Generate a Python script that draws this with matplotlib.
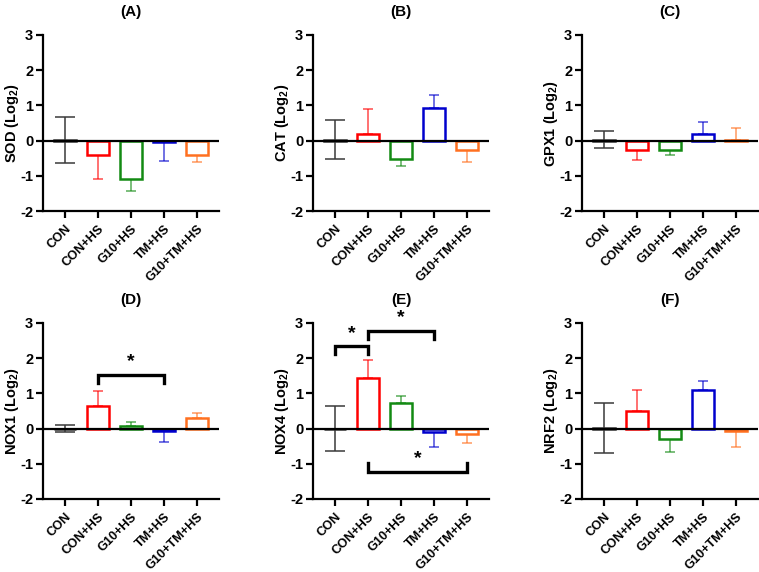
import matplotlib
matplotlib.use("Agg")
import matplotlib.pyplot as plt
import numpy as np

plt.rcParams['font.family'] = ['Liberation Sans', 'DejaVu Sans']
plt.rcParams['font.weight'] = 'bold'
plt.rcParams['mathtext.fontset'] = 'custom'
plt.rcParams['mathtext.rm'] = 'Liberation Sans:bold'
plt.rcParams['mathtext.bf'] = 'Liberation Sans:bold'
plt.rcParams['mathtext.default'] = 'bf'

groups = ["CON", "CON+HS", "G10+HS", "TM+HS", "G10+TM+HS"]
colores = ["#3a3a3a", "#ff0000", "#138a13", "#0000cd", "#ff7020"]

titulos = ["(A)", "(B)", "(C)", "(D)", "(E)", "(F)"]
genes = ["SOD", "CAT", "GPX1", "NOX1", "NOX4", "NRF2"]

sod_mean = [0.02, -0.40, -1.09, -0.04, -0.40]
sod_err = [0.66, 0.69, 0.33, 0.54, 0.21]
cat_mean = [0.03, 0.20, -0.51, 0.94, -0.27]
cat_err = [0.56, 0.70, 0.21, 0.36, 0.35]
gpx1_mean = [0.03, -0.28, -0.28, 0.19, 0.01]
gpx1_err = [0.23, 0.27, 0.13, 0.34, 0.35]
nox1_mean = [0.0, 0.64, 0.07, -0.07, 0.29]
nox1_err = [0.10, 0.42, 0.11, 0.30, 0.14]
nox4_mean = [0.0, 1.44, 0.72, -0.09, -0.15]
nox4_err = [0.64, 0.51, 0.20, 0.44, 0.27]
nrf2_mean = [0.02, 0.51, -0.29, 1.09, -0.07]
nrf2_err = [0.70, 0.58, 0.38, 0.26, 0.45]

medias = [sod_mean, cat_mean, gpx1_mean, nox1_mean, nox4_mean, nrf2_mean]
errores = [sod_err, cat_err, gpx1_err, nox1_err, nox4_err, nrf2_err]

# significance brackets: (panel, group i, group j, y level, direction)
brackets = [
    (3, 1, 3, 1.53, -1),
    (4, 0, 1, 2.35, -1),
    (4, 1, 3, 2.78, -1),
    (4, 1, 4, -1.22, 1),
]


def dibujar_panel(ax, medias_p, errores_p, titulo, gen):
    x = np.arange(len(groups))
    ax.bar(x, medias_p, width=0.66, facecolor='white', edgecolor=colores,
           linewidth=1.8, zorder=2)
    for i in range(len(groups)):
        m = medias_p[i]
        e = errores_p[i]
        if i == 0:
            yerr = [[e], [e]]
            cap = 7.5
        elif m >= 0:
            yerr = [[0], [e]]
            cap = 3.8
        else:
            yerr = [[e], [0]]
            cap = 3.8
        ax.errorbar(x[i], m, yerr=yerr, fmt='none', ecolor=colores[i],
                    alpha=0.6 if i > 0 else 0.85, elinewidth=1.3,
                    capsize=cap, capthick=1.3, zorder=1)
    ax.axhline(0, color='black', linewidth=1.6, zorder=3)

    ax.set_xlim(-0.67, 4.67)
    ax.set_ylim(-2, 3)
    ax.set_yticks([-2, -1, 0, 1, 2, 3])
    ax.set_yticklabels(["-2", "-1", "0", "1", "2", "3"])
    ax.set_xticks(x)
    ax.set_xticklabels(groups, rotation=45, ha='right', rotation_mode='anchor',
                       fontsize=9.2, fontweight='bold')
    ax.tick_params(axis='y', labelsize=10.5, width=1.6, length=5, pad=2)
    ax.tick_params(axis='x', width=1.6, length=5)
    for lbl in ax.get_yticklabels():
        lbl.set_fontweight('bold')
    ax.spines['top'].set_visible(False)
    ax.spines['right'].set_visible(False)
    ax.spines['left'].set_linewidth(1.6)
    ax.spines['bottom'].set_linewidth(1.6)
    ax.set_ylabel(gen + r" (Log$_2$)", fontsize=10.5, fontweight='bold')
    ax.yaxis.set_label_coords(-0.125, 0.5)
    ax.set_title(titulo, fontsize=11, fontweight='bold', pad=14)


fig = plt.figure(figsize=(7.59, 5.72), dpi=100)
W, H = 759, 572
lefts = [43, 313, 582]
tops = [35, 323]
ancho = 176
alto = 176

ejes = []
for fila in range(2):
    for col in range(3):
        ax = fig.add_axes([lefts[col] / W, 1 - (tops[fila] + alto) / H,
                           ancho / W, alto / H])
        ejes.append(ax)

for k, ax in enumerate(ejes):
    dibujar_panel(ax, medias[k], errores[k], titulos[k], genes[k])

for panel, i, j, y, d in brackets:
    ax = ejes[panel]
    ax.plot([i, i, j, j], [y + d * 0.24, y, y, y + d * 0.24], color='black',
            linewidth=2.4, solid_joinstyle='miter', clip_on=False, zorder=4)
    ax.text((i + j) / 2, y + 0.12, "*", ha='center', va='bottom',
            fontsize=14, fontweight='bold')

fig.savefig("out.png", dpi=100)
